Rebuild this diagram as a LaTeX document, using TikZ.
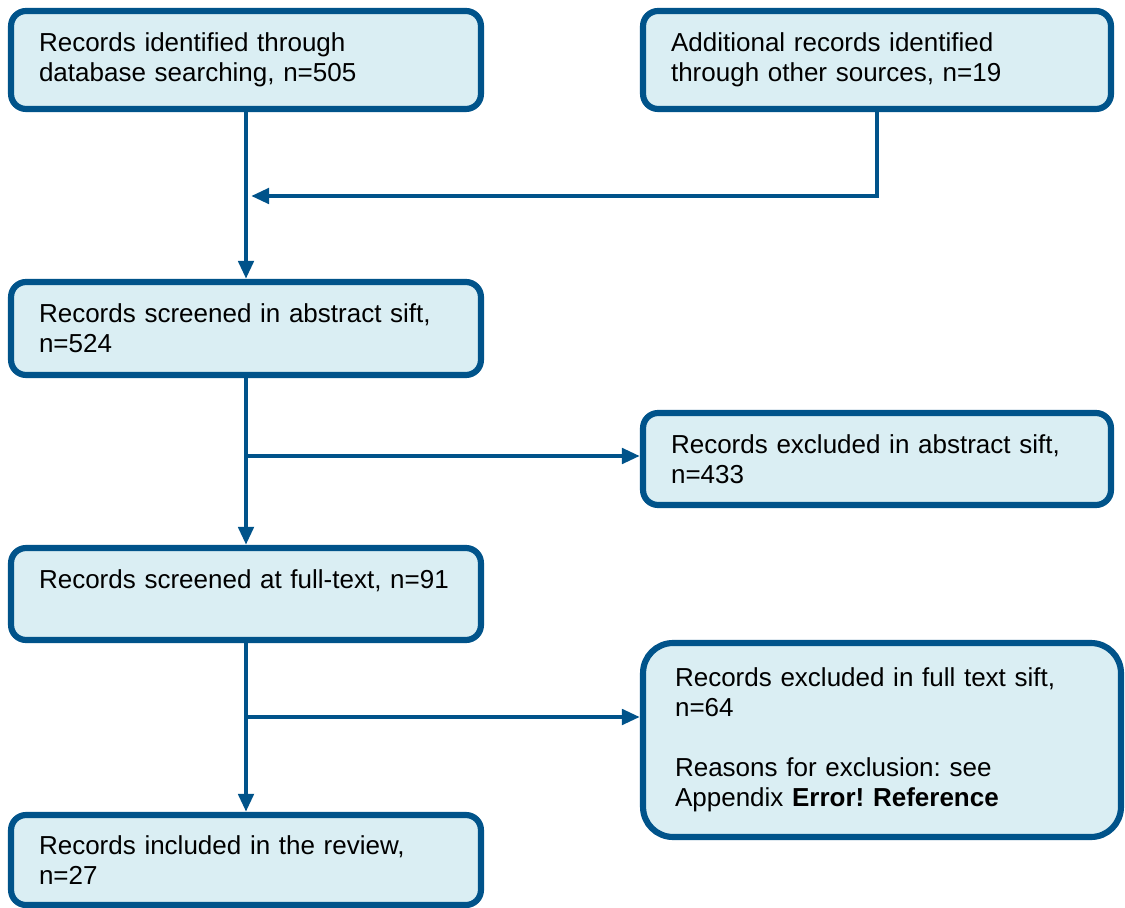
\documentclass[tikz,border=0pt]{standalone}
\usepackage{fontspec}
\setmainfont{Liberation Sans}
\usepackage{tikz}
\usetikzlibrary{arrows.meta}
\usetikzlibrary{calc}
\definecolor{prismablue}{RGB}{0,83,138}
\definecolor{prismafill}{RGB}{218,238,243}
\tikzset{
  recordbox/.style={draw=prismablue, fill=prismafill, line width=3.5pt, rounded corners=0.3cm,
    text width=8.28cm, inner xsep=0.56cm, inner ysep=0pt, align=left,
    font=\fontsize{14.8}{17}\selectfont\frenchspacing},
  flowline/.style={draw=prismablue, line width=2.7pt, -{Triangle[length=0.36cm,width=0.3cm]}}
}
\newcommand\wbox{9.4cm}

\begin{document}
\begin{tikzpicture}[x=0.02cm,y=-0.02cm]
\useasboundingbox (0,0) rectangle (1125,908);
% boxes
\node[recordbox, minimum width=\wbox, minimum height=1.96cm] (ident) at (246,60)
  {Records identified through\\ database searching, n=505};
\node[recordbox, minimum height=1.96cm, text width=8.24cm] (other) at (877,60)
  {Additional records identified\\ through other sources, n=19};
\node[recordbox, minimum height=1.86cm] (absscreen) at (246,328.5)
  {Records screened in abstract sift,\\ n=524};
\node[recordbox, minimum height=1.84cm, text width=8.24cm] (absexcl) at (877,459)
  {Records excluded in abstract sift,\\ n=433};
\node[recordbox, minimum height=1.84cm] (fullscreen) at (246,594)
  {\mbox{Records screened at full-text, n=91}\\ \mbox{}};
\node[recordbox, minimum height=3.88cm, text width=8.28cm, inner xsep=0.64cm, rounded corners=0.6cm] (fullexcl) at (882,740)
  {Records excluded in full text sift,\\ n=64\\[17pt] Reasons for exclusion: see\\ Appendix \textbf{Error! Reference}};
\node[recordbox, minimum height=1.8cm] (included) at (246,860)
  {Records included in the review,\\ n=27};
% connectors
\coordinate (join) at (251,196);
\coordinate (split1) at (246,456);
\coordinate (split2) at (246,717);
\draw[flowline] (ident) -- (absscreen);
\draw[flowline] (other.south) |- (join);
\draw[flowline] (absscreen) -- (fullscreen);
\draw[flowline] (split1) -- (split1 -| absexcl.west);
\draw[flowline] (fullscreen) -- (included);
\draw[flowline] (split2) -- (split2 -| fullexcl.west);
\end{tikzpicture}
\end{document}
